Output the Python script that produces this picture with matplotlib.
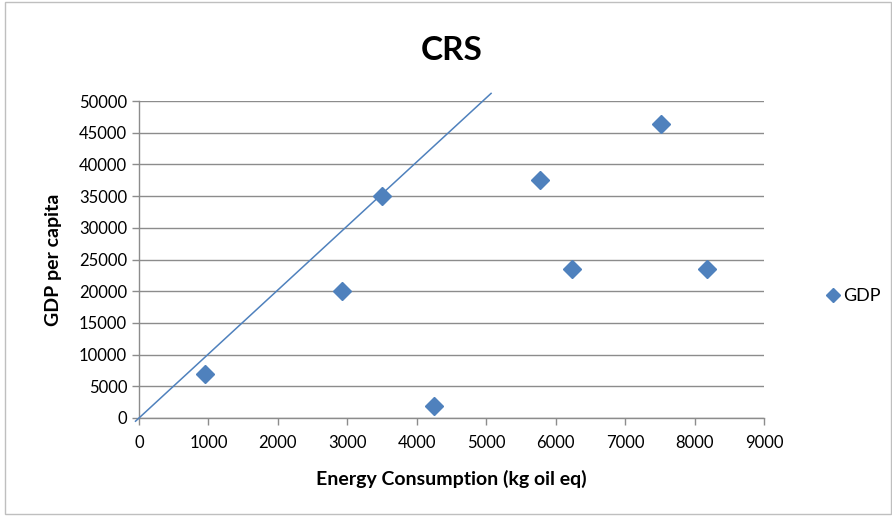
import numpy as np
import matplotlib.pyplot as plt
from matplotlib.patches import Rectangle

# data
energy = [950, 2920, 3500, 4245, 5775, 6235, 7515, 8180]
gdp = [7000, 20000, 35000, 1900, 37600, 23500, 46400, 23500]

# reference line (CRS)
line_x = [-50, 5070]
line_y = [-505, 51200]

xticks = list(range(0, 9001, 1000))
yticks = list(range(0, 50001, 5000))

blue = '#4F81BD'
grid_c = '#8C8C8C'

plt.rcParams['font.family'] = ['Lato', 'DejaVu Sans']

fig = plt.figure(figsize=(8.92, 5.16), dpi=100)
ax = fig.add_axes([139/892, 98/516, 625/892, 317/516])

ax.plot(line_x, line_y, color=blue, linewidth=1.1, clip_on=False, zorder=3)
ax.plot(energy, gdp, linestyle='none', marker='D', markersize=9.5,
        color=blue, label='GDP', zorder=4)

ax.set_xlim(0, 9000)
ax.set_ylim(0, 50000)
ax.set_xticks(xticks)
ax.set_yticks(yticks)
ax.tick_params(axis='both', labelsize=12, color=grid_c, length=5, width=1)
ax.tick_params(axis='x', pad=7)
ax.yaxis.grid(True, color=grid_c, linewidth=1)
ax.set_axisbelow(True)
for s in ['top', 'right']:
    ax.spines[s].set_visible(False)
for s in ['left', 'bottom']:
    ax.spines[s].set_color(grid_c)
    ax.spines[s].set_linewidth(1)

fig.text(452/892, 1 - 51/516, 'CRS', fontsize=24, fontweight='bold',
         ha='center', va='center')
ax.set_xlabel('Energy Consumption (kg oil eq)', fontsize=14, fontweight='bold', labelpad=14)
ax.set_ylabel('GDP per capita', fontsize=14, fontweight='bold', labelpad=12)

ax.legend(loc='center left', bbox_to_anchor=(1.075, 0.385), frameon=False,
          fontsize=13, handlelength=0.6, handletextpad=0.3, markerscale=0.8)

fig.patches.append(Rectangle((5/892, 2/516), 886/892, 512/516, transform=fig.transFigure,
                             fill=False, edgecolor='#BFBFBF', linewidth=1))

fig.savefig('out.png', dpi=100)
